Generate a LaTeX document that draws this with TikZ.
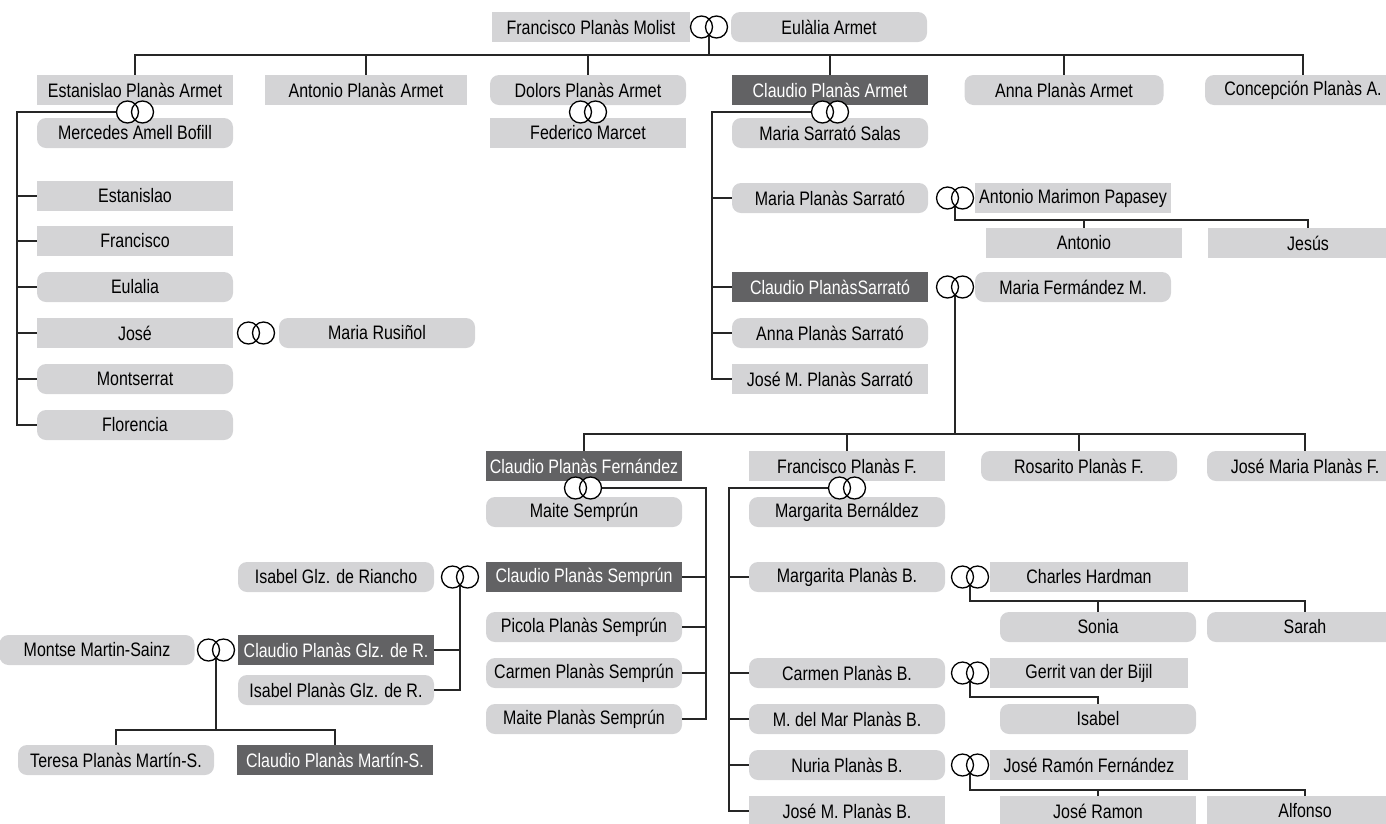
\documentclass[tikz,border=0pt]{standalone}
\usepackage{fontspec}
\setmainfont[FakeStretch=0.82]{Liberation Sans}
\definecolor{boxgrey}{RGB}{212,212,214}
\definecolor{heirgrey}{RGB}{98,98,100}
\tikzset{person/.style = {minimum width = 196pt,
                          minimum height = 30pt,
                          inner sep = 0pt,
                          font = \fontsize{19.5}{21}\selectfont},
         man/.style = {person, fill = boxgrey},
         woman/.style = {person, fill = boxgrey, rounded corners = 9pt},
         heir/.style = {person, fill = heirgrey, text = white},
         wed/.style = {minimum width = 37pt, minimum height = 22pt, inner sep = 0pt},
         link/.style = {line width = 1.2pt, black!85}}

\begin{document}
\begin{tikzpicture}[x=1pt, y=-1pt]
		\useasboundingbox (0,0) rectangle (1386,823);
		% first generation
		\node[man, minimum width = 198pt] (fpm) at (591,27) {Francisco Planàs Molist};
		\node[wed] (w0) at (709,27) {};
		\node[woman] (ea) at (829,27) {Eulàlia Armet};
		% children
		\node[man] (est) at (135,90) {Estanislao Planàs Armet};
		\node[man, minimum width = 202pt] (ant) at (366,90) {Antonio Planàs Armet};
		\node[woman] (dol) at (588,90) {Dolors Planàs Armet};
		\node[heir] (cla) at (830,90) {Claudio Planàs Armet};
		\node[woman, minimum width = 199pt] (ann) at (1064,90) {Anna Planàs Armet};
		\node[woman] (conc) at (1303,90) {Concepción Planàs A.};
		\node[wed] (w1) at (135,112) {};
		\node[wed] (w2) at (588,112) {};
		\node[wed] (w3) at (830,112) {};
		\node[woman] (mer) at (135,133) {Mercedes Amell Bofill};
		\node[man] (fed) at (588,133) {Federico Marcet};
		\node[woman] (msa) at (830,133) {Maria Sarrató Salas};
		% Estanislao
		\node[man] (est2) at (135,196) {Estanislao};
		\node[man] (fra) at (135,241) {Francisco};
		\node[woman] (eul) at (135,287) {Eulalia};
		\node[man] (jos) at (135,333) {José};
		\node[woman] (mon) at (135,379) {Montserrat};
		\node[woman] (flo) at (135,425) {Florencia};
		\node[wed] (w4) at (256,333) {};
		\node[woman] (rus) at (377,333) {Maria Rusiñol};
		% Claudio
		\node[woman] (mps) at (830,198) {Maria Planàs Sarrató};
		\node[heir] (cps) at (830,287) {Claudio PlanàsSarrató};
		\node[woman] (aps) at (830,333) {Anna Planàs Sarrató};
		\node[man] (jmps) at (830,379) {José M. Planàs Sarrató};
		\node[wed] (w5) at (955,198) {};
		\node[man] (amp) at (1073,198) {Antonio Marimon Papasey};
		\node[man] (ant2) at (1084,243) {Antonio};
		\node[man, minimum width = 200pt] (jes) at (1308,243) {Jesús};
		\node[wed] (w6) at (955,287) {};
		\node[woman] (mfm) at (1073,287) {Maria Fermández M.};
		% Claudio Planàs Sarrató
		\node[heir] (cpf) at (584,466) {Claudio Planàs Fernández};
		\node[man] (fpf) at (847,466) {Francisco Planàs F.};
		\node[woman] (rpf) at (1079,466) {Rosarito Planàs F.};
		\node[woman] (jmpf) at (1305,466) {José Maria Planàs F.};
		\node[wed] (w7) at (583,488) {};
		\node[wed] (w8) at (847,488) {};
		\node[woman] (mse) at (584,512) {Maite Semprún};
		\node[woman] (mbe) at (847,512) {Margarita Bernáldez};
		% Claudio Planàs Fernández
		\node[heir] (cps2) at (584,577) {Claudio Planàs Semprún};
		\node[woman] (pic) at (584,627) {Picola Planàs Semprún};
		\node[woman] (cmn) at (584,673) {Carmen Planàs Semprún};
		\node[woman] (mps2) at (584,719) {Maite Planàs Semprún};
		\node[wed] (w9) at (460,577) {};
		\node[woman] (igr) at (336,577) {Isabel Glz. de Riancho};
		\node[heir] (cpgr) at (336,650) {Claudio Planàs Glz. de R.};
		\node[woman] (ipgr) at (336,690) {Isabel Planàs Glz. de R.};
		\node[wed] (w10) at (216,650) {};
		\node[woman, minimum width = 195pt] (mms) at (97,650) {Montse Martin-Sainz};
		\node[woman] (tpm) at (116,760) {Teresa Planàs Martín-S.};
		\node[heir] (cpm) at (335,760) {Claudio Planàs Martín-S.};
		% Francisco Planàs F.
		\node[woman] (mpb) at (847,577) {Margarita Planàs B.};
		\node[woman] (cpb) at (847,673) {Carmen Planàs B.};
		\node[woman] (mmpb) at (847,719) {M. del Mar Planàs B.};
		\node[woman] (npb) at (847,765) {Nuria Planàs B.};
		\node[man] (jmpb) at (847,811) {José M. Planàs B.};
		\node[wed] (w11) at (970,577) {};
		\node[man, minimum width = 198pt] (chh) at (1089,577) {Charles Hardman};
		\node[woman] (son) at (1098,627) {Sonia};
		\node[woman] (sar) at (1305,627) {Sarah};
		\node[wed] (w12) at (970,673) {};
		\node[man, minimum width = 198pt] (gvb) at (1089,673) {Gerrit van der Bijil};
		\node[woman] (isa) at (1098,719) {Isabel};
		\node[wed] (w13) at (970,765) {};
		\node[man, minimum width = 198pt] (jrf) at (1089,765) {José Ramón Fernández};
		\node[man] (jra) at (1098,811) {José Ramon};
		\node[man] (alf) at (1305,811) {Alfonso};
		% lines
		\coordinate (bus1) at (0,55);
		\coordinate (bus2) at (0,220);
		\coordinate (bus3) at (0,434);
		\coordinate (bus4) at (0,730);
		\coordinate (bus5) at (0,601);
		\coordinate (bus6) at (0,697);
		\coordinate (bus7) at (0,790);
		\coordinate (spine1) at (17,0);
		\coordinate (spine2) at (712,0);
		\coordinate (spine3) at (706,0);
		\coordinate (spine4) at (729,0);
		\draw[link] (w0.center) -- (w0.center |- bus1);
		\draw[link] (est.north) |- (conc.north |- bus1) -- (conc.north);
		\foreach \n in {ant,dol,cla,ann}
			\draw[link] (\n.north) -- (\n.north |- bus1);
		\draw[link] (w1.center) -| (spine1 |- flo.west) -- (flo.west);
		\foreach \n in {est2,fra,eul,jos,mon}
			\draw[link] (\n.west) -- (\n.west -| spine1);
		\draw[link] (w3.center) -| (spine2 |- jmps.west) -- (jmps.west);
		\foreach \n in {mps,cps,aps}
			\draw[link] (\n.west) -- (\n.west -| spine2);
		\draw[link] (w5.center) |- (jes.north |- bus2) -- (jes.north);
		\draw[link] (ant2.north) -- (ant2.north |- bus2);
		\draw[link] (w6.center) -- (w6.center |- bus3);
		\draw[link] (cpf.north) |- (jmpf.north |- bus3) -- (jmpf.north);
		\foreach \n in {fpf,rpf}
			\draw[link] (\n.north) -- (\n.north |- bus3);
		\draw[link] (w7.center) -| (spine3 |- mps2.east) -- (mps2.east);
		\foreach \n in {cps2,pic,cmn}
			\draw[link] (\n.east) -- (\n.east -| spine3);
		\draw[link] (w9.center) |- (ipgr.east);
		\draw[link] (cpgr.east) -- (cpgr.east -| w9.center);
		\draw[link] (w10.center) -- (w10.center |- bus4);
		\draw[link] (tpm.north) |- (cpm.north |- bus4) -- (cpm.north);
		\draw[link] (w8.center) -| (spine4 |- jmpb.west) -- (jmpb.west);
		\foreach \n in {mpb,cpb,mmpb,npb}
			\draw[link] (\n.west) -- (\n.west -| spine4);
		\draw[link] (w11.center) |- (sar.north |- bus5) -- (sar.north);
		\draw[link] (son.north) -- (son.north |- bus5);
		\draw[link] (w12.center) |- (isa.north |- bus6) -- (isa.north);
		\draw[link] (w13.center) |- (alf.north |- bus7) -- (alf.north);
		\draw[link] (jra.north) -- (jra.north |- bus7);
		% rings
		\foreach \w in {w0,w1,w2,w3,w4,w5,w6,w7,w8,w9,w10,w11,w12,w13} {
			\fill[white] (\w.center) ++(-7.5,0) circle[radius=11pt] ++(15,0) circle[radius=11pt];
			\draw[line width = 1.3pt] (\w.center) ++(-7.5,0) circle[radius=11pt] ++(15,0) circle[radius=11pt];
		}
	\end{tikzpicture}
\end{document}
